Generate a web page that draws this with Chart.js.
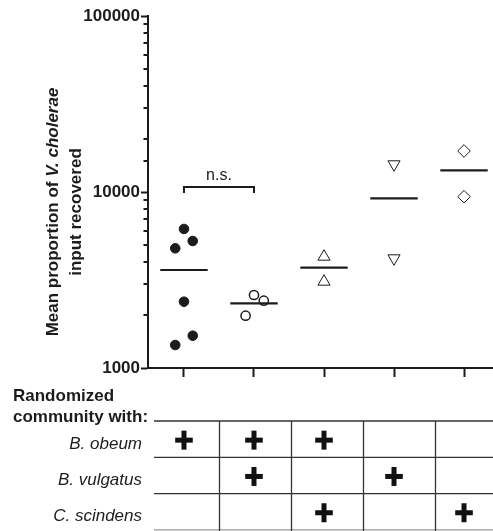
<!DOCTYPE html>
<html>
<head>
<meta charset="utf-8">
<script src="https://cdn.jsdelivr.net/npm/chart.js@4.4.1/dist/chart.umd.min.js"></script>
<style>
  html, body { margin: 0; padding: 0; background: #fff; }
</style>
</head>
<body>
<canvas id="chart" width="493" height="531"></canvas>
<script>
// groups along the x axis (one column per randomized community)
const groups = [0, 1, 2, 3, 4];
const yTicks = [1000, 10000, 100000];

// individual values per group, with small horizontal offsets so they don't overlap
const group1Values = [6166, 5268, 4786, 2380, 1526, 1351];
const group1Jitter = [0, 0.125, -0.125, 0, 0.125, -0.125];
const group2Values = [1982, 2599, 2412];
const group2Jitter = [-0.12, 0, 0.14];
const group3Values = [4290, 3093];
const group4Values = [14370, 4200];
const group5Values = [17100, 9404];
const groupMeans = [3604, 2331, 3715, 9206, 13286];

const bracketValue = 10700;

// table below the chart
const species = ["B. obeum", "B. vulgatus", "C. scindens"];
const obeumPresent = [1, 1, 1, 0, 0];
const vulgatusPresent = [0, 1, 0, 1, 0];
const scindensPresent = [0, 0, 1, 0, 1];
const membership = [obeumPresent, vulgatusPresent, scindensPresent];

const INK = "#1c1c1c";
const FONT = "'Liberation Sans', Arial, Helvetica, sans-serif";

const toPoints = (gi, values, jitter) =>
  values.map((v, i) => ({ x: gi + (jitter ? jitter[i] : 0), y: v }));

const isPow10 = (v) => Math.abs(Math.log10(v) - Math.round(Math.log10(v))) < 1e-9;

const tablePlugin = {
  id: "extras",
  afterDraw(chart) {
    const { ctx, chartArea, scales } = chart;
    const x = scales.x;
    const y = scales.y;
    ctx.save();

    // minor ticks on the log axis (shorter than the major ones)
    ctx.strokeStyle = INK;
    ctx.lineWidth = 2;
    y.ticks.forEach((t) => {
      if (isPow10(t.value)) return;
      const py = Math.round(y.getPixelForValue(t.value));
      ctx.beginPath();
      ctx.moveTo(chartArea.left - 4.5, py);
      ctx.lineTo(chartArea.left, py);
      ctx.stroke();
    });

    // y axis title, two lines, rotated
    const drawRotated = (parts, bx, cy) => {
      ctx.save();
      ctx.translate(bx, cy);
      ctx.rotate(-Math.PI / 2);
      ctx.fillStyle = INK;
      ctx.textBaseline = "alphabetic";
      let total = 0;
      parts.forEach((p) => { ctx.font = p.font; p.w = ctx.measureText(p.text).width; total += p.w; });
      let px = -total / 2;
      parts.forEach((p) => { ctx.font = p.font; ctx.fillText(p.text, px, 0); px += p.w; });
      ctx.restore();
    };
    drawRotated([
      { text: "Mean proportion of ", font: "bold 17px " + FONT },
      { text: "V. cholerae", font: "italic bold 17px " + FONT }
    ], 57.5, 212);
    drawRotated([{ text: "input recovered", font: "bold 17px " + FONT }], 80.5, 212);

    // n.s. bracket between the first two groups
    const bx1 = x.getPixelForValue(groups[0]);
    const bx2 = x.getPixelForValue(groups[1]);
    const by = Math.round(y.getPixelForValue(bracketValue));
    ctx.lineWidth = 2;
    ctx.beginPath();
    ctx.moveTo(bx1, by + 6);
    ctx.lineTo(bx1, by);
    ctx.lineTo(bx2, by);
    ctx.lineTo(bx2, by + 6);
    ctx.stroke();
    ctx.fillStyle = INK;
    ctx.font = "16px " + FONT;
    ctx.textAlign = "center";
    ctx.textBaseline = "alphabetic";
    ctx.fillText("n.s.", (bx1 + bx2) / 2, by - 7);

    // table of community members
    const top = chartArea.bottom + 53;
    const rowH = 36.3;
    const lineLeft = 154;
    const right = chart.width;
    ctx.font = "bold 17px " + FONT;
    ctx.textAlign = "left";
    ctx.fillText("Randomized", 13, top - 20);
    ctx.fillText("community with:", 13, top + 1);

    ctx.strokeStyle = "#333";
    ctx.lineWidth = 1.3;
    for (let r = 0; r <= species.length; r++) {
      const ly = top + r * rowH;
      ctx.strokeStyle = r === species.length ? "#999" : "#333";
      ctx.beginPath();
      ctx.moveTo(lineLeft, ly);
      ctx.lineTo(right, ly);
      ctx.stroke();
    }
    ctx.strokeStyle = "#333";
    const colEdges = [0.5, 1.53, 2.56, 3.59];
    colEdges.forEach((v) => {
      const lx = Math.round(x.getPixelForValue(v)) + 0.5;
      ctx.beginPath();
      ctx.moveTo(lx, top);
      ctx.lineTo(lx, top + species.length * rowH + 2);
      ctx.stroke();
    });

    species.forEach((name, r) => {
      const cy = top + r * rowH + rowH / 2;
      ctx.fillStyle = INK;
      ctx.font = "italic 17px " + FONT;
      ctx.textAlign = "right";
      ctx.fillText(name, 142, cy + 9.5);
      membership[r].forEach((on, gi) => {
        if (!on) return;
        const cx = x.getPixelForValue(groups[gi]);
        ctx.fillStyle = "#111";
        ctx.fillRect(cx - 8.8, cy - 1.5, 17.6, 5);
        ctx.fillRect(cx - 2.5, cy - 8.5, 5, 19);
      });
    });

    ctx.restore();
  }
};

const pointBase = { showLine: false, borderColor: INK };

new Chart(document.getElementById("chart"), {
  type: "scatter",
  data: {
    datasets: [
      { ...pointBase, data: toPoints(0, group1Values, group1Jitter), pointStyle: "circle",
        pointRadius: 4.8, borderWidth: 1, backgroundColor: INK },
      { ...pointBase, data: toPoints(1, group2Values, group2Jitter), pointStyle: "circle",
        pointRadius: 4.6, borderWidth: 1.5, backgroundColor: "rgba(0,0,0,0)" },
      { ...pointBase, data: toPoints(2, group3Values), pointStyle: "triangle",
        pointRadius: 7, borderWidth: 1, backgroundColor: "rgba(0,0,0,0)" },
      { ...pointBase, data: toPoints(3, group4Values), pointStyle: "triangle", rotation: 180,
        pointRadius: 7, borderWidth: 1, backgroundColor: "rgba(0,0,0,0)" },
      { ...pointBase, data: toPoints(4, group5Values), pointStyle: "rectRot",
        pointRadius: 6.3, borderWidth: 1, backgroundColor: "rgba(0,0,0,0)" },
      { ...pointBase, data: groupMeans.map((v, i) => ({ x: groups[i], y: v })), pointStyle: "line",
        pointRadius: 23.7, borderWidth: 2.2, backgroundColor: INK }
    ]
  },
  options: {
    responsive: false,
    animation: false,
    events: [],
    layout: { autoPadding: false, padding: { top: 16, right: 0, bottom: 153, left: 0 } },
    plugins: { legend: { display: false }, tooltip: { enabled: false } },
    scales: {
      x: {
        type: "linear",
        min: -0.514,
        max: 4.414,
        afterBuildTicks: (scale) => { scale.ticks = groups.map((v) => ({ value: v })); },
        afterFit: (scale) => { scale.height = 10; },
        ticks: { display: false },
        grid: { drawOnChartArea: false, drawTicks: true, tickLength: 9, tickWidth: 2, tickColor: INK },
        border: { display: true, width: 2, color: INK }
      },
      y: {
        type: "logarithmic",
        min: yTicks[0],
        max: yTicks[yTicks.length - 1],
        afterFit: (scale) => { scale.width = 148; },
        ticks: {
          autoSkip: false,
          padding: 1,
          color: INK,
          font: { family: FONT, size: 17, weight: "bold" },
          callback: (v) => (yTicks.includes(v) ? String(v) : "")
        },
        grid: {
          drawOnChartArea: false,
          drawTicks: true,
          tickLength: 7,
          tickWidth: 2,
          tickColor: (c) => (c.tick && isPow10(c.tick.value) ? INK : "rgba(0,0,0,0)")
        },
        border: { display: true, width: 2, color: INK }
      }
    }
  },
  plugins: [tablePlugin]
});
</script>
</body>
</html>
